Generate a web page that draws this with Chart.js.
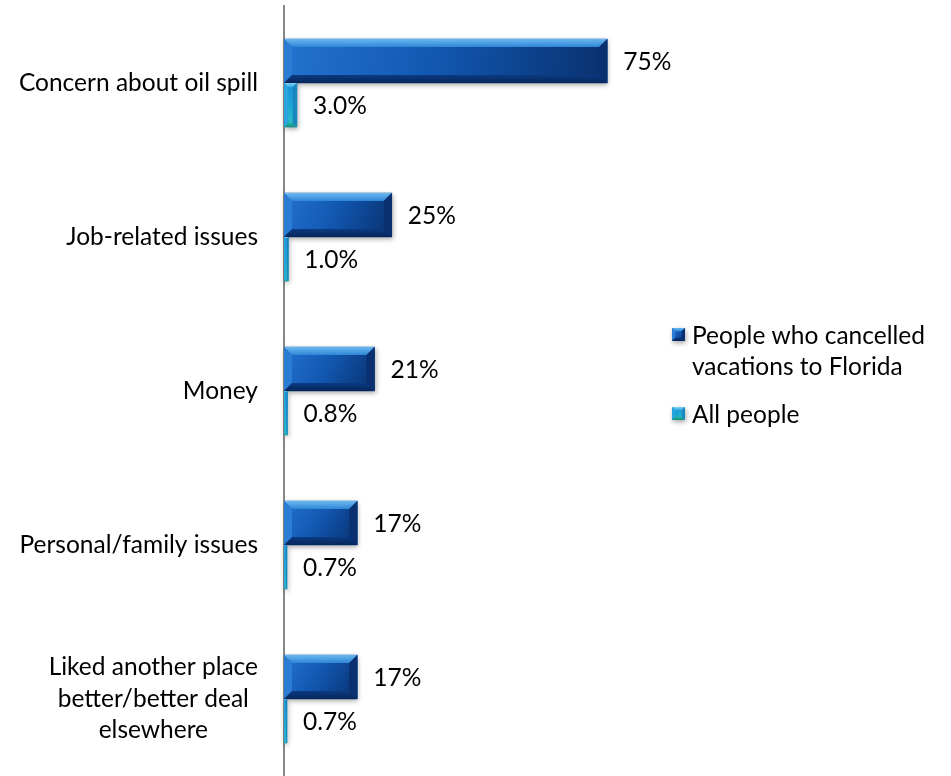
<!DOCTYPE html>
<html>
<head>
<meta charset="utf-8">
<script src="https://cdn.jsdelivr.net/npm/chart.js@4.4.1/dist/chart.umd.min.js"></script>
<style>
  html, body { margin: 0; padding: 0; background: #ffffff; }
  #wrap { width: 951px; height: 776px; position: relative; }
</style>
</head>
<body>
<div id="wrap"><canvas id="reasonsChart"></canvas></div>
<script>
// причины отмены поездок
const categories = [
	"Concern about oil spill",
	"Job-related issues",
	"Money",
	"Personal/family issues",
	["Liked another place", "better/better deal", "elsewhere"],
];
const seriesNames = ["People who cancelled vacations to Florida", "All people"];
const cancelledValues = [75, 25, 21, 17, 17];
const allPeopleValues = [3.0, 1.0, 0.8, 0.7, 0.7];
const labelDecimals = [0, 1];

const FONT = "Lato";
const FONT_SIZE = 24.5;
const TICK_PADDING = 26;
const TICK_LINE_H = 31.5;

// палитры для "выпуклых" столбиков
const palettes = [
	{
		body: ["#2472cf", "#1259b3", "#09306e"],
		top: ["#6ab8ef", "#2f86d6"],
		left: "#2a7dd2",
		bottom: ["#0b3a82", "#06265a"],
		right: "#0a3070",
	},
	{
		body: ["#1a8cdb", "#1ba2d6", "#2cc5bd"],
		top: ["#7fd2f5", "#36a8e2"],
		left: "#27a4de",
		bottom: ["#22b3a6", "#1a8f86"],
		right: "#1a86c0",
	},
];

function quad(ctx, pts, fill) {
	ctx.beginPath();
	ctx.moveTo(pts[0][0], pts[0][1]);
	for (let i = 1; i < pts.length; i++) ctx.lineTo(pts[i][0], pts[i][1]);
	ctx.closePath();
	ctx.fillStyle = fill;
	ctx.fill();
}

function drawBevelBox(ctx, L, T, R, B, pal) {
	const w = R - L;
	const h = B - T;
	if (w <= 0 || h <= 0) return;
	const b = Math.max(1, Math.min(8, w / 3, h / 4));

	ctx.save();
	ctx.shadowColor = "rgba(0,0,0,0.35)";
	ctx.shadowBlur = 5;
	ctx.shadowOffsetY = 2;
	ctx.shadowOffsetX = 1;
	const body = ctx.createLinearGradient(L, T, R, B);
	body.addColorStop(0, pal.body[0]);
	body.addColorStop(0.45, pal.body[1]);
	body.addColorStop(1, pal.body[2]);
	ctx.fillStyle = body;
	ctx.fillRect(L, T, w, h);
	ctx.restore();

	const top = ctx.createLinearGradient(0, T, 0, T + b);
	top.addColorStop(0, pal.top[0]);
	top.addColorStop(1, pal.top[1]);
	quad(ctx, [[L, T], [R, T], [R - b, T + b], [L + b, T + b]], top);

	quad(ctx, [[L, T], [L + b, T + b], [L + b, B - b], [L, B]], pal.left);

	const bot = ctx.createLinearGradient(0, B - b, 0, B);
	bot.addColorStop(0, pal.bottom[0]);
	bot.addColorStop(1, pal.bottom[1]);
	quad(ctx, [[L, B], [L + b, B - b], [R - b, B - b], [R, B]], bot);

	quad(ctx, [[R, T], [R, B], [R - b, B - b], [R - b, T + b]], pal.right);
}

const bevelBars = {
	id: "bevelBars",
	afterDatasetsDraw(chart) {
		const { ctx } = chart;
		chart.data.datasets.forEach((dataset, i) => {
			chart.getDatasetMeta(i).data.forEach((bar) => {
				const { x, y, base, height } = bar.getProps(["x", "y", "base", "height"], true);
				drawBevelBox(ctx, Math.min(base, x), y - height / 2, Math.max(base, x), y + height / 2, palettes[i]);
			});
		});
	},
};

const valueLabels = {
	id: "valueLabels",
	afterDatasetsDraw(chart) {
		const { ctx } = chart;
		ctx.save();
		ctx.font = FONT_SIZE + "px " + FONT;
		ctx.textBaseline = "middle";
		ctx.textAlign = "left";
		ctx.fillStyle = "#000000";
		chart.data.datasets.forEach((dataset, i) => {
			chart.getDatasetMeta(i).data.forEach((bar, idx) => {
				const { x, y } = bar.getProps(["x", "y"], true);
				ctx.fillText(dataset.data[idx].toFixed(labelDecimals[i]) + "%", x + 16, y + 1);
			});
		});
		ctx.restore();
	},
};

// многострочные подписи категорий: строки по центру, блок прижат к оси
const centeredTickLines = {
	id: "centeredTickLines",
	afterDraw(chart) {
		const { ctx } = chart;
		const scale = chart.scales.y;
		ctx.save();
		ctx.font = FONT_SIZE + "px " + FONT;
		ctx.textBaseline = "middle";
		ctx.textAlign = "center";
		ctx.fillStyle = "#000000";
		scale.ticks.forEach((tick, idx) => {
			const lines = tick.label;
			if (!Array.isArray(lines)) return;
			const widest = Math.max(...lines.map((l) => ctx.measureText(l).width));
			const cx = scale.right - TICK_PADDING - widest / 2;
			const cy = scale.getPixelForTick(idx);
			const y0 = cy - ((lines.length - 1) * TICK_LINE_H) / 2;
			lines.forEach((l, k) => ctx.fillText(l, cx, y0 + k * TICK_LINE_H));
		});
		ctx.restore();
	},
};

// легенда справа, подписи переносятся по ширине
const sideLegend = {
	id: "sideLegend",
	afterDraw(chart) {
		const { ctx } = chart;
		const boxX = 672;
		const textX = 692;
		const maxWidth = 255;
		const lineH = 31;
		let y = 335;
		ctx.save();
		ctx.font = FONT_SIZE + "px " + FONT;
		ctx.textBaseline = "middle";
		ctx.fillStyle = "#000000";
		chart.data.datasets.forEach((dataset, i) => {
			const words = dataset.label.split(" ");
			const lines = [];
			let line = "";
			words.forEach((w) => {
				const test = line ? line + " " + w : w;
				if (ctx.measureText(test).width > maxWidth && line) {
					lines.push(line);
					line = w;
				} else {
					line = test;
				}
			});
			lines.push(line);
			drawBevelBox(ctx, boxX, y - 7, boxX + 13, y + 6, palettes[i]);
			ctx.fillStyle = "#000000";
			lines.forEach((ln, k) => ctx.fillText(ln, textX, y + 1 + k * lineH));
			y += lines.length * lineH + 17;
		});
		ctx.restore();
	},
};

const data = {
	labels: categories,
	datasets: [
		{
			label: seriesNames[0],
			data: cancelledValues,
			backgroundColor: "#1259b3",
			barThickness: 44,
		},
		{
			label: seriesNames[1],
			data: allPeopleValues,
			backgroundColor: "#1ba2d6",
			barThickness: 44,
		},
	],
};

const config = {
	type: "bar",
	data: data,
	options: {
		indexAxis: "y",
		responsive: true,
		maintainAspectRatio: false,
		animation: false,
		layout: {
			padding: { top: 6, right: 236, bottom: 0, left: 0 },
		},
		scales: {
			x: {
				min: 0,
				max: 100,
				display: false,
			},
			y: {
				afterFit(scale) {
					// ось на фиксированном месте, без отступов под подписи
					scale.width = 284;
					scale.paddingTop = 0;
					scale.paddingBottom = 0;
				},
				grid: {
					display: true,
					drawOnChartArea: false,
					drawTicks: false,
				},
				border: {
					display: true,
					color: "#878787",
					width: 2,
				},
				ticks: {
					// многострочные рисует centeredTickLines
					color: (c) => (Array.isArray(c.tick && c.tick.label) ? "rgba(0,0,0,0)" : "#000000"),
					padding: TICK_PADDING,
					font: { family: FONT, size: FONT_SIZE, lineHeight: TICK_LINE_H + "px" },
				},
			},
		},
		plugins: {
			legend: false,
			tooltip: { enabled: false },
		},
		hover: { mode: null },
	},
	plugins: [bevelBars, valueLabels, centeredTickLines, sideLegend],
};

const reasonsChart = new Chart(document.getElementById("reasonsChart"), config);
</script>
</body>
</html>
